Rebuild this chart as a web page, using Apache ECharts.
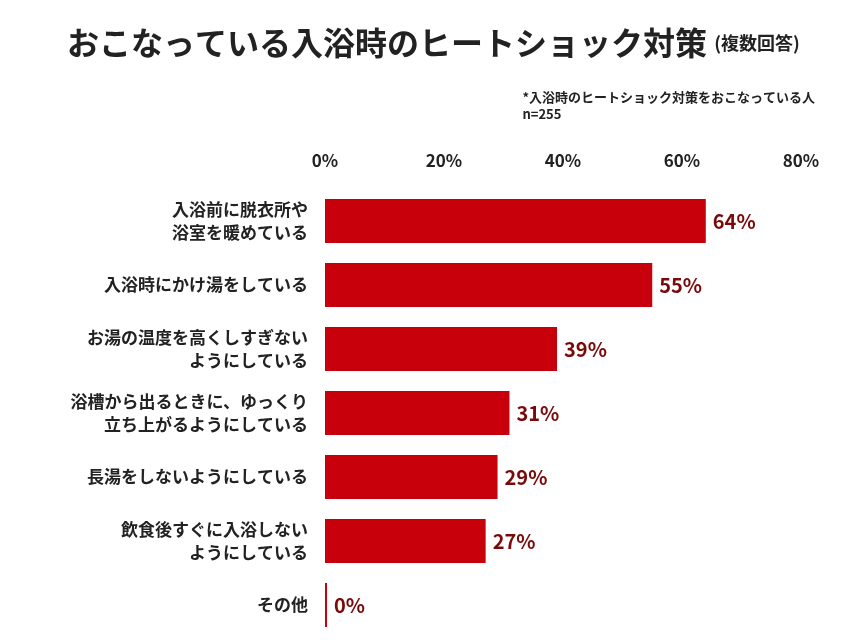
<!DOCTYPE html>
<html lang="ja">
<head>
    <meta charset="UTF-8">
    <title>入浴時のヒートショック対策</title>
    <script src="https://cdn.jsdelivr.net/npm/echarts@6/dist/echarts.min.js"></script>
    <style>html,body{margin:0;padding:0;background:#fff;}</style>
</head>
<body>
    <div id="main" style="width:853px;height:640px;"></div>
    <script type="text/javascript">
        // 項目と割合（%）
        var categories = [
            '入浴前に脱衣所や\n浴室を暖めている',
            '入浴時にかけ湯をしている',
            'お湯の温度を高くしすぎない\nようにしている',
            '浴槽から出るときに、ゆっくり\n立ち上がるようにしている',
            '長湯をしないようにしている',
            '飲食後すぐに入浴しない\nようにしている',
            'その他'
        ];
        var values = [64, 55, 39, 31, 29, 27, 0];
        var tickLabels = ['0%', '20%', '40%', '60%', '80%'];

        var myChart = echarts.init(document.getElementById('main'));
        var font = '"Noto Sans CJK JP", "Noto Sans", sans-serif';

        var option = {
            backgroundColor: '#fff',
            textStyle: { fontFamily: font },
            title: [{
                text: 'おこなっている入浴時のヒートショック対策 {s|(複数回答)}',
                left: 62, top: 22,
                textStyle: {
                    fontSize: 32, fontWeight: 'bold', color: '#222', fontFamily: font,
                    rich: { s: { fontSize: 18, fontWeight: 'bold', color: '#222', fontFamily: font } }
                }
            }, {
                text: '*入浴時のヒートショック対策をおこなっている人\nn=255',
                right: 33, top: 84,
                textStyle: { fontSize: 13, fontWeight: 'bold', color: '#222', lineHeight: 17, align: 'right', fontFamily: font }
            }],
            grid: { left: 325, right: 52, top: 189, bottom: 3, containLabel: false },
            xAxis: {
                type: 'value', position: 'top', min: 0, max: 80, interval: 20,
                axisLine: { show: false }, axisTick: { show: false }, splitLine: { show: false },
                axisLabel: {
                    margin: 20, fontSize: 17, fontWeight: 'bold', color: '#222',
                    formatter: function (v) { return tickLabels[v / 20]; }
                }
            },
            yAxis: {
                type: 'category', data: categories, inverse: true,
                axisLine: { show: false }, axisTick: { show: false },
                axisLabel: { margin: 17, fontSize: 17, fontWeight: 'bold', color: '#222', lineHeight: 23, align: 'right' }
            },
            series: [{
                type: 'bar', data: values, barWidth: 44, barMinHeight: 2,
                itemStyle: { color: '#c8000b' },
                label: {
                    show: true, position: 'right', distance: 7,
                    fontSize: 20, fontWeight: 'bold', color: '#7a0a0a',
                    formatter: '{c}%'
                }
            }]
        };

        myChart.setOption(option);
    </script>
</body>
</html>
